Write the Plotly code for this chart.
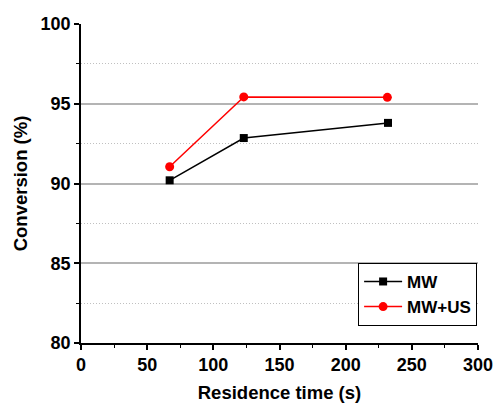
import plotly.graph_objects as go

time_mw = [67, 123, 232]
conv_mw = [90.2, 92.85, 93.8]
time_us = [67, 123, 231.5]
conv_us = [91.05, 95.43, 95.4]
series_names = ["MW", "MW+US"]
x_ticks = [0, 50, 100, 150, 200, 250, 300]
y_ticks = [80, 85, 90, 95, 100]

FONT = "Arial, 'Liberation Sans', sans-serif"

fig = go.Figure()
fig.add_trace(go.Scatter(x=time_mw, y=conv_mw, name="<b>%s</b>" % series_names[0], mode="lines+markers",
                         line=dict(color="black", width=1.5),
                         marker=dict(symbol="square", size=8, color="black")))
fig.add_trace(go.Scatter(x=time_us, y=conv_us, name="<b>%s</b>" % series_names[1], mode="lines+markers",
                         line=dict(color="red", width=1.5),
                         marker=dict(symbol="circle", size=9, color="red")))

fig.update_layout(
    width=495, height=405,
    margin=dict(l=81, r=17, t=24, b=62),
    plot_bgcolor="white", paper_bgcolor="white",
    font=dict(family=FONT, size=18, color="black"),
    showlegend=True,
    legend=dict(x=0.698, y=0.251, xanchor="left", yanchor="top",
                bordercolor="black", borderwidth=1, bgcolor="white",
                font=dict(family=FONT, size=17, color="black"),
                tracegroupgap=0, itemwidth=38),
    xaxis=dict(range=[0, 300], tickvals=x_ticks, ticktext=["<b>%d</b>" % v for v in x_ticks],
               automargin=False,
               showline=True, linecolor="black", linewidth=1.5,
               ticks="outside", ticklen=5, tickwidth=1.5, tickcolor="black",
               showgrid=False, zeroline=False,
               tickfont=dict(family=FONT, size=18),
               minor=dict(dtick=25, tick0=0, ticks="outside", ticklen=3, tickcolor="black", tickwidth=1),
               title=dict(text="<b>Residence time (s)</b>", standoff=12,
                          font=dict(family=FONT, size=18.5))),
    yaxis=dict(range=[80, 100], tickvals=y_ticks, ticktext=["<b>%d</b>" % v for v in y_ticks],
               automargin=False,
               showline=True, linecolor="black", linewidth=1.5,
               ticks="outside", ticklen=5, tickwidth=1.5, tickcolor="black",
               showgrid=True, gridcolor="#b4b4b4", gridwidth=1.5,
               zeroline=False,
               tickfont=dict(family=FONT, size=18),
               minor=dict(dtick=2.5, tick0=80, ticks="outside", ticklen=3, tickcolor="black", tickwidth=1,
                          showgrid=True, gridcolor="#c0c0c0", gridwidth=1, griddash="1px,2px"),
               title=dict(text="<b>Conversion (%)</b>", standoff=8,
                          font=dict(family=FONT, size=18.5))),
)

fig.write_html("out.html", config={"displayModeBar": False},
               post_script="document.body.style.margin='0';document.body.style.padding='0';")
